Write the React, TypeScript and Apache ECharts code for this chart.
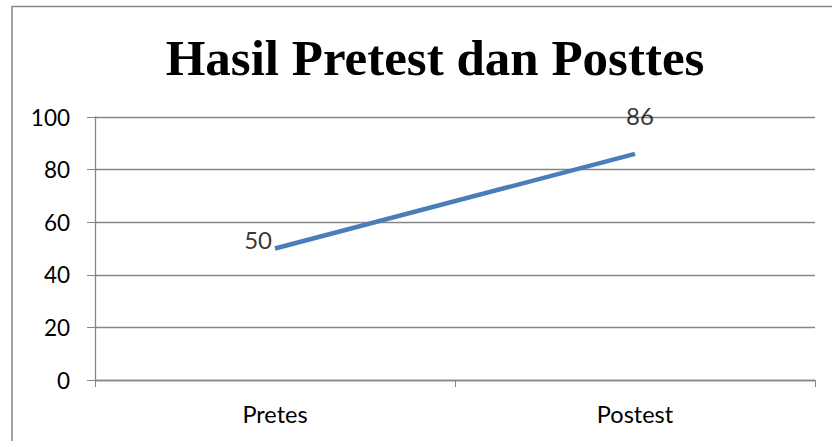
import React, { useEffect, useRef } from "react";
import * as echarts from "echarts";

const title = "Hasil Pretest dan Posttes";
const categories = ["Pretes", "Postest"];
const values = [50, 86];
const yTicks = { min: 0, max: 100, interval: 20 };

export default function App() {
  const ref = useRef<HTMLDivElement>(null);
  useEffect(() => {
    const chart = echarts.init(ref.current!, null, { renderer: "svg" });
    chart.setOption({
      animation: false,
      backgroundColor: "#ffffff",
      title: {
        text: title,
        left: 430,
        textAlign: "center",
        top: 27,
        textStyle: {
          fontFamily: "Liberation Serif",
          fontWeight: "bold",
          fontSize: 51,
          color: "#000000",
        },
      },
      graphic: [
        {
          type: "rect",
          shape: { x: 12, y: 6.5, width: 840, height: 460 },
          style: { fill: "none", stroke: "#878787", lineWidth: 1.5 },
          silent: true,
        },
      ],
      grid: { left: 95, right: 17, top: 117, bottom: 61 },
      xAxis: {
        type: "category",
        data: categories,
        boundaryGap: true,
        axisLine: { lineStyle: { color: "#868686", width: 1.3 } },
        axisTick: { show: true, length: 7, lineStyle: { color: "#868686" } },
        axisLabel: {
          color: "#000000",
          fontFamily: "Lato",
          fontSize: 23.5,
          margin: 22,
        },
      },
      yAxis: {
        type: "value",
        min: yTicks.min,
        max: yTicks.max,
        interval: yTicks.interval,
        axisLine: { show: true, lineStyle: { color: "#868686", width: 1.3 } },
        axisTick: { show: true, length: 8, lineStyle: { color: "#868686" } },
        splitLine: { show: true, lineStyle: { color: "#868686", width: 1.3 } },
        axisLabel: {
          color: "#000000",
          fontFamily: "Lato",
          fontSize: 22.5,
          margin: 25,
        },
      },
      series: [
        {
          type: "line",
          data: values,
          showSymbol: false,
          symbol: "none",
          lineStyle: { color: "#4a7ebb", width: 4.5 },
          label: { show: false },
        },
        {
          type: "scatter",
          data: [
            { value: values[0], label: { position: "left", offset: [2, -9] } },
            { value: values[1], label: { position: "top", offset: [5, -21] } },
          ],
          symbolSize: 0,
          silent: true,
          label: {
            show: true,
            color: "#000000",
            fontFamily: "Lato",
            fontSize: 24,
          },
        },
      ],
    });
    return () => chart.dispose();
  }, []);
  return (
    <div
      ref={ref}
      style={{ position: "absolute", left: 0, top: 0, width: 832, height: 441 }}
    />
  );
}
